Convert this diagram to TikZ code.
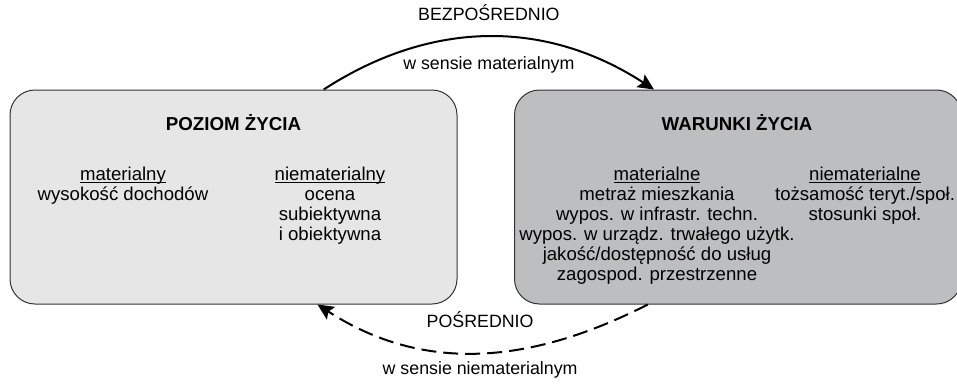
\documentclass[tikz,border=0pt]{standalone}
\usepackage{fontspec}
\setmainfont{Liberation Sans}
\usetikzlibrary{arrows.meta}
\definecolor{lightbox}{HTML}{E6E6E7}
\definecolor{darkbox}{HTML}{BDBEC0}
\definecolor{edgegray}{HTML}{333333}
\newcommand{\underhead}[1]{\setbox0\hbox{#1}\rlap{\rule[-2.5pt]{\wd0}{1pt}}\box0}

\begin{document}
\begin{tikzpicture}[x=1pt, y=1pt,
    box/.style={rectangle, draw=edgegray, line width=1pt, rounded corners=25pt, minimum width=447pt, minimum height=214pt},
    headtext/.style={font=\fontsize{18.7}{20}\selectfont\bfseries, anchor=base, inner sep=0pt},
    coltext/.style={font=\fontsize{18.6}{20}\selectfont, align=center, anchor=base, inner sep=0pt},
    arrowlabel/.style={font=\fontsize{17.8}{20}\selectfont, anchor=base, inner sep=0pt},
    arrow/.style={-{Stealth[length=16pt, width=15pt, inset=3pt]}, line width=2pt}
]
    \useasboundingbox (0,0) rectangle (957,384);

    \node[box, fill=lightbox] (poziom) at (233.5,187) {};
    \node[box, fill=darkbox] (warunki) at (738,187) {};

    \node[headtext] (poziomhead) at (233.5,254) {POZIOM ŻYCIA};
    \node[headtext] (warunkihead) at (737,254) {WARUNKI ŻYCIA};

    % base = baseline of the last line
    \node[coltext] (pmat) at (123,184) {\underhead{materialny}\\wysokość dochodów};
    \node[coltext] (pniemat) at (330,144) {\underhead{niematerialny}\\ocena\\subiektywna\\i obiektywna};
    \node[coltext] (wmat) at (657,104) {\underhead{materialne}\\metraż mieszkania\\wypos. w infrastr. techn.\\wypos. w urządz. trwałego użytk.\\jakość/dostępność do usług\\zagospod. przestrzenne};
    \node[coltext] (wniemat) at (865,164) {\underhead{niematerialne}\\tożsamość teryt./społ.\\stosunki społ.};

    \draw[arrow] (poziom.50) to[out=33, in=147]
        node[arrowlabel, yshift=16pt] (bezp) {BEZPOŚREDNIO}
        node[arrowlabel, yshift=-33pt] (smat) {w sensie materialnym} (warunki.128);
    \draw[arrow, dash pattern=on 15pt off 7pt] (warunki.230) to[out=207, in=327]
        node[arrowlabel, yshift=25pt] (posr) {POŚREDNIO}
        node[arrowlabel, yshift=-22pt] (sniemat) {w sensie niematerialnym} (poziom.308);
\end{tikzpicture}
\end{document}
